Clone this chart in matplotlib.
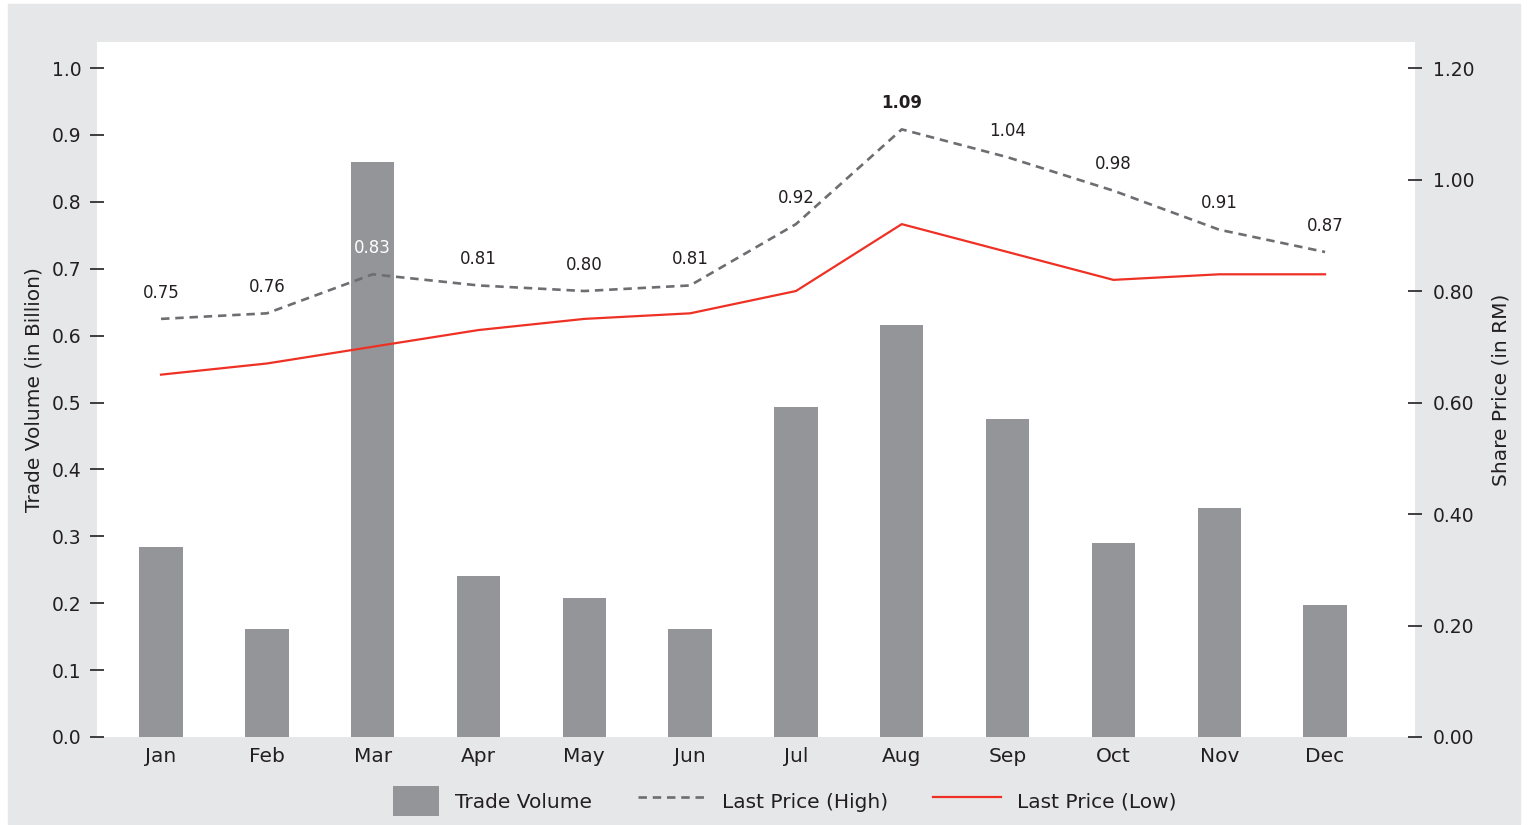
import matplotlib.pyplot as plt
from matplotlib.patches import Rectangle
from matplotlib.legend_handler import HandlerPatch

plt.rcParams['font.family'] = ['DejaVu Sans']

months = ['Jan', 'Feb', 'Mar', 'Apr', 'May', 'Jun',
          'Jul', 'Aug', 'Sep', 'Oct', 'Nov', 'Dec']
trade_volume = [0.284, 0.161, 0.859, 0.241, 0.208, 0.161,
                0.493, 0.616, 0.475, 0.290, 0.342, 0.197]
price_high = [0.75, 0.76, 0.83, 0.81, 0.80, 0.81,
              0.92, 1.09, 1.04, 0.98, 0.91, 0.87]
price_low = [0.65, 0.67, 0.70, 0.73, 0.75, 0.76,
             0.80, 0.92, 0.87, 0.82, 0.83, 0.83]

panel_gray = '#e6e7e8'
bar_gray = '#939598'
dash_gray = '#6d6e71'
red = '#ee3124'
ink = '#231f20'

fig = plt.figure(figsize=(15.28, 8.25), dpi=100, facecolor='white')
# grey frame behind the chart
fig.patches.append(Rectangle((8 / 1528, 1 / 825), 1512 / 1528, 820 / 825,
                             transform=fig.transFigure, color=panel_gray, zorder=-5))

ax = fig.add_axes([97 / 1528, 88 / 825, 1318 / 1528, 695 / 825])
ax2 = ax.twinx()

x = list(range(len(months)))
bars = ax.bar(x, trade_volume, width=0.41, color=bar_gray, label='Trade Volume', zorder=1)
hi_line, = ax2.plot(x, price_high, color=dash_gray, lw=1.9, dashes=(3.2, 2.2),
                    label='Last Price (High)')
lo_line, = ax2.plot(x, price_low, color=red, lw=1.6, label='Last Price (Low)')

# labels above the high price points
for i, v in enumerate(price_high):
    color = 'white' if months[i] == 'Mar' else ink
    weight = 'bold' if months[i] == 'Aug' else 'normal'
    ax2.annotate(f'{v:.2f}', (i, v), xytext=(0, 19), textcoords='offset points',
                 ha='center', va='center', fontsize=12, color=color, fontweight=weight)

ax.set_xlim(-0.605, 11.85)
ax.set_ylim(0, 1.039)
ax2.set_ylim(0, 1.2467)
ax.set_yticks([i / 10 for i in range(11)])
ax.set_yticklabels([f'{i / 10:.1f}' for i in range(11)])
ax2.set_yticks([0, 0.2, 0.4, 0.6, 0.8, 1.0, 1.2])
ax2.set_yticklabels(['0.00', '0.20', '0.40', '0.60', '0.80', '1.00', '1.20'])
ax.set_xticks(x)
ax.set_xticklabels(months)

for a in (ax, ax2):
    for s in a.spines.values():
        s.set_visible(False)
ax.tick_params(axis='y', direction='inout', length=10, width=1.2, color=ink,
               labelsize=13.5, labelcolor=ink, pad=6)
ax2.tick_params(axis='y', direction='inout', length=10, width=1.2, color=ink,
                labelsize=13.5, labelcolor=ink, pad=8)
ax.tick_params(axis='x', length=0, labelsize=14.5, labelcolor=ink, pad=7)

ax.set_ylabel('Trade Volume (in Billion)', fontsize=14.5, color=ink, labelpad=6)
ax2.set_ylabel('Share Price (in RM)', fontsize=14.5, color=ink, labelpad=12)


def right_square(legend, orig_handle, xdescent, ydescent, width, height, fontsize):
    w = height * 1.55
    return Rectangle((-xdescent + width - w, -ydescent), w, height)


bar_handle = bars[0]
fig.legend([bar_handle, hi_line, lo_line],
           ['Trade Volume', 'Last Price (High)', 'Last Price (Low)'],
           loc='center', bbox_to_anchor=(0.5065, 0.029), ncol=3, frameon=False,
           fontsize=14.5, handlelength=3.38, handleheight=1.92, handletextpad=0.8,
           columnspacing=2.24, labelcolor=ink, borderpad=0,
           handler_map={bar_handle: HandlerPatch(patch_func=right_square)})

fig.savefig('out.png', dpi=100, facecolor='white')
